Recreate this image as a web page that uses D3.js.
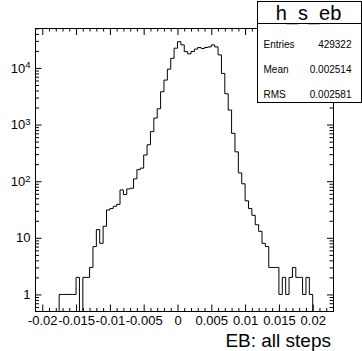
<!DOCTYPE html>
<html>
<head>
<meta charset="utf-8">
<script src="https://cdn.jsdelivr.net/npm/d3@7"></script>
<style>
  html, body { margin: 0; padding: 0; background: #fff; }
  svg { display: block; font-family: 'Liberation Sans', Arial, Helvetica, sans-serif; }
</style>
</head>
<body>
<div class="chart"></div>
<script>
// histogram range and contents (88 bins of 0.0005)
const xMin = -0.021;
const xMax = 0.023;
const binCounts = [
  0, 0, 0, 0, 0, 0, 0, 1, 1, 1,
  1, 1, 2, 0, 2, 2, 3, 7, 14, 8,
  16, 31, 33, 36, 39, 70, 58, 73, 75, 110,
  160, 170, 290, 440, 750, 1300, 1900, 3800, 6100, 9500,
  14800, 22300, 29000, 25500, 19400, 17700, 19500, 21500, 23000, 22000,
  23000, 23500, 25500, 23500, 17000, 8000, 3500, 1800, 700, 330,
  140, 90, 45, 33, 25, 17, 13, 8, 7, 3,
  3, 3, 1, 2, 1, 2, 3, 2, 2, 1,
  2, 1, 0, 0, 0, 0, 0, 0
];
const xTickValues = [-0.02, -0.015, -0.01, -0.005, 0, 0.005, 0.01, 0.015, 0.02];
const xTickLabels = ['-0.02', '-0.015', '-0.01', '-0.005', '0', '0.005', '0.01', '0.015', '0.02'];
const yDecades = [1, 10, 100, 1000, 10000];
const yLabelBase = ['1', '10', '10', '10', '10'];
const yLabelExp = ['', '', '2', '3', '4'];
const statNames = ['Entries', 'Mean', 'RMS'];
const statValues = ['429322', '0.002514', '0.002581'];
const histName = 'h_s_eb';
const histTitle = 'EB: all steps';

const W = 362, H = 351;
const frame = { left: 35.5, right: 333, top: 28, bottom: 311.5 };

const svg = d3.select('.chart')
  .append('svg')
  .attr('width', W)
  .attr('height', H);

svg.append('rect').attr('width', W).attr('height', H).attr('fill', '#fff');

const x = d3.scaleLinear().domain([xMin, xMax]).range([frame.left, frame.right]);
const y = d3.scaleLog().domain([0.5, 50700]).range([frame.bottom, frame.top]);

const nBins = binCounts.length;
const binWidth = (xMax - xMin) / nBins;

// minor tick positions
const xMinor = d3.range(-20, 23).map(k => k / 1000).filter(v => !xTickValues.some(t => Math.abs(t - v) < 1e-9));
const yMinor = [];
[0.1, 1, 10, 100, 1000, 10000].forEach(dec => {
  for (let k = 2; k <= 9; k++) {
    const v = k * dec;
    if (v > 0.5 && v < 50700) yMinor.push(v);
  }
});

svg.append('clipPath').attr('id', 'frame-clip')
  .append('rect')
  .attr('x', frame.left).attr('y', frame.top)
  .attr('width', frame.right - frame.left)
  .attr('height', frame.bottom - frame.top);

// histogram outline
const pts = binCounts.map((c, i) => [xMin + i * binWidth, c]);
pts.push([xMax, binCounts[nBins - 1]]);

const line = d3.line()
  .curve(d3.curveStepAfter)
  .x(d => x(d[0]))
  .y(d => y(Math.max(d[1], 0.5)));

svg.append('path')
  .attr('clip-path', 'url(#frame-clip)')
  .attr('fill', 'none')
  .attr('stroke', '#000')
  .attr('stroke-width', 1)
  .attr('d', line(pts));

// axes, ticks pointing inward
function styleAxis(g) {
  g.select('.domain').remove();
  g.selectAll('.tick line').attr('stroke', '#000');
}

svg.append('g')
  .attr('transform', `translate(0,${frame.bottom})`)
  .call(d3.axisBottom(x).tickValues(xTickValues).tickSize(-7).tickPadding(4)
    .tickFormat((d, i) => xTickLabels[i]))
  .call(styleAxis)
  .selectAll('text')
  .attr('fill', '#000')
  .style('font-size', '13px');

svg.append('g')
  .attr('transform', `translate(0,${frame.bottom})`)
  .call(d3.axisBottom(x).tickValues(xMinor).tickSize(-3.5).tickFormat(''))
  .call(styleAxis);

svg.append('g')
  .attr('transform', `translate(0,${frame.top})`)
  .call(d3.axisTop(x).tickValues(xTickValues).tickSize(-7).tickFormat(''))
  .call(styleAxis);

svg.append('g')
  .attr('transform', `translate(0,${frame.top})`)
  .call(d3.axisTop(x).tickValues(xMinor).tickSize(-3.5).tickFormat(''))
  .call(styleAxis);

const yLeft = svg.append('g')
  .attr('transform', `translate(${frame.left},0)`)
  .call(d3.axisLeft(y).tickValues(yDecades).tickSize(-6).tickPadding(5).tickFormat(''))
  .call(styleAxis);

yLeft.selectAll('.tick text')
  .attr('fill', '#000')
  .style('font-size', '13px')
  .each(function (d, i) {
    const t = d3.select(this);
    t.text(yLabelBase[i]);
    if (yLabelExp[i]) {
      t.append('tspan')
        .attr('dy', '-0.45em')
        .style('font-size', '9.5px')
        .text(yLabelExp[i]);
    }
  });

svg.append('g')
  .attr('transform', `translate(${frame.left},0)`)
  .call(d3.axisLeft(y).tickValues(yMinor).tickSize(-3.5).tickFormat(''))
  .call(styleAxis);

svg.append('g')
  .attr('transform', `translate(${frame.right},0)`)
  .call(d3.axisRight(y).tickValues(yDecades).tickSize(-6).tickFormat(''))
  .call(styleAxis);

svg.append('g')
  .attr('transform', `translate(${frame.right},0)`)
  .call(d3.axisRight(y).tickValues(yMinor).tickSize(-3.5).tickFormat(''))
  .call(styleAxis);

// frame
svg.append('rect')
  .attr('x', frame.left).attr('y', frame.top)
  .attr('width', frame.right - frame.left)
  .attr('height', frame.bottom - frame.top)
  .attr('fill', 'none')
  .attr('stroke', '#000')
  .attr('shape-rendering', 'crispEdges');

// axis title, bottom right
svg.append('text')
  .attr('x', 331)
  .attr('y', 347)
  .attr('text-anchor', 'end')
  .style('font-size', '19px')
  .attr('fill', '#000')
  .text(histTitle);

// stats box
const box = { x: 257.5, y: 1.5, w: 104, h: 100.5, titleH: 22 };
const stats = svg.append('g');

stats.append('rect')
  .attr('x', box.x).attr('y', box.y)
  .attr('width', box.w).attr('height', box.h)
  .attr('fill', '#fff')
  .attr('stroke', '#000')
  .attr('shape-rendering', 'crispEdges');

stats.append('line')
  .attr('x1', box.x).attr('x2', box.x + box.w)
  .attr('y1', box.y + box.titleH).attr('y2', box.y + box.titleH)
  .attr('stroke', '#000')
  .attr('shape-rendering', 'crispEdges');

stats.append('text')
  .attr('x', box.x + box.w / 2 - 1)
  .attr('y', 19.5)
  .attr('text-anchor', 'middle')
  .style('font-size', '20px')
  .attr('fill', '#000')
  .text(histName);

const rowY = [48, 73, 97.5];
statNames.forEach((name, i) => {
  stats.append('text')
    .attr('x', box.x + 6)
    .attr('y', rowY[i])
    .style('font-size', '10px')
    .attr('fill', '#000')
    .text(name);
  stats.append('text')
    .attr('x', box.x + box.w - 10)
    .attr('y', rowY[i])
    .attr('text-anchor', 'end')
    .style('font-size', '10px')
    .attr('fill', '#000')
    .text(statValues[i]);
});
</script>
</body>
</html>
